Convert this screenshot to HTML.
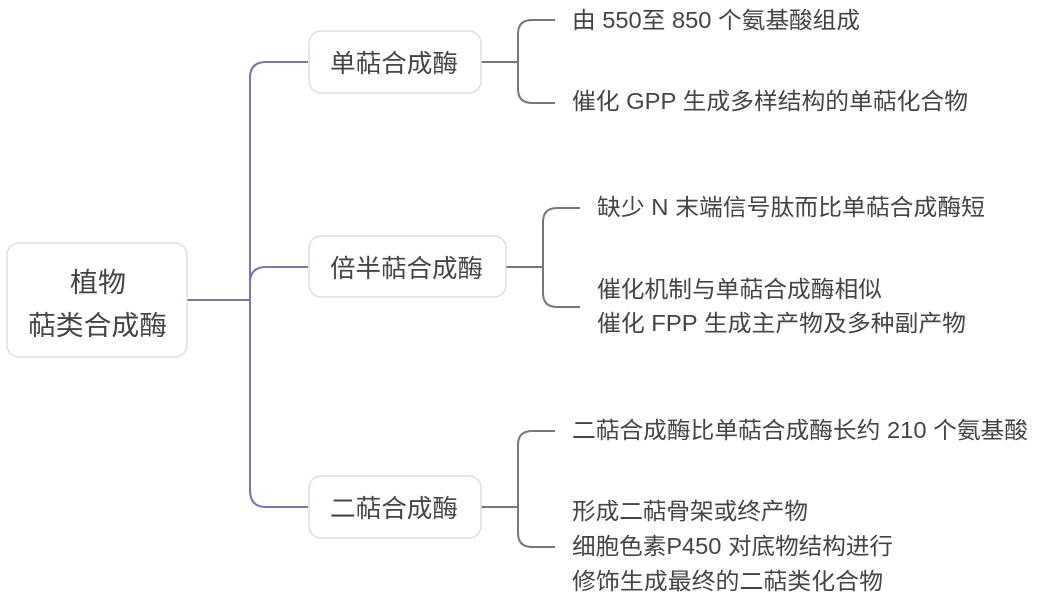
<!DOCTYPE html>
<html><head><meta charset="utf-8"><style>
body{margin:0;background:#fff;}
svg text{font-family:"Liberation Sans","Noto Sans CJK SC",sans-serif;fill:#444;}
</style></head><body>
<svg width="1042" height="604" xmlns="http://www.w3.org/2000/svg">
<g fill="none" stroke="#7b74b5" stroke-width="2">
<path d="M187 300 H250"/>
<path d="M308 62 H266 Q250 62 250 78 V490 Q250 507 266 507 H308"/>
<path d="M250 283 Q250 267 266 267 H308"/>
</g>
<g fill="none" stroke="#777" stroke-width="2">
<path d="M481 62 H518"/>
<path d="M555 20 H532 Q518 20 518 34 V89 Q518 103 532 103 H555"/>
<path d="M506 267 H543"/>
<path d="M580 208 H557 Q543 208 543 222 V293 Q543 307 557 307 H580"/>
<path d="M481 507 H518"/>
<path d="M555 431 H532 Q518 431 518 445 V533 Q518 547 532 547 H555"/>
</g>
<g fill="#fff" stroke="#ddd" stroke-width="1.5">
<rect x="7" y="243" width="180" height="114" rx="12"/>
<rect x="309" y="31" width="172" height="62" rx="12"/>
<rect x="309" y="236" width="197" height="61" rx="12"/>
<rect x="309" y="476" width="172" height="62" rx="12"/>
</g>
<g font-size="27">
<text x="70" y="292" textLength="56" lengthAdjust="spacingAndGlyphs">植物</text>
<text x="28" y="335" textLength="139" lengthAdjust="spacingAndGlyphs">萜类合成酶</text>
</g>
<g font-size="25">
<text x="330" y="72" textLength="128" lengthAdjust="spacingAndGlyphs">单萜合成酶</text>
<text x="330" y="277" textLength="153" lengthAdjust="spacingAndGlyphs">倍半萜合成酶</text>
<text x="330" y="517" textLength="128" lengthAdjust="spacingAndGlyphs">二萜合成酶</text>
</g>
<g font-size="23">
<text x="572" y="28" textLength="288" lengthAdjust="spacingAndGlyphs">由 550至 850 个氨基酸组成</text>
<text x="572" y="109" textLength="396" lengthAdjust="spacingAndGlyphs">催化 GPP 生成多样结构的单萜化合物</text>
<text x="597" y="215" textLength="388" lengthAdjust="spacingAndGlyphs">缺少 N 末端信号肽而比单萜合成酶短</text>
<text x="597" y="297" textLength="285" lengthAdjust="spacingAndGlyphs">催化机制与单萜合成酶相似</text>
<text x="597" y="331" textLength="369" lengthAdjust="spacingAndGlyphs">催化 FPP 生成主产物及多种副产物</text>
<text x="572" y="438" textLength="456" lengthAdjust="spacingAndGlyphs">二萜合成酶比单萜合成酶长约 210 个氨基酸</text>
<text x="572" y="519" textLength="236" lengthAdjust="spacingAndGlyphs">形成二萜骨架或终产物</text>
<text x="572" y="554" textLength="321" lengthAdjust="spacingAndGlyphs">细胞色素P450 对底物结构进行</text>
<text x="572" y="589" textLength="311" lengthAdjust="spacingAndGlyphs">修饰生成最终的二萜类化合物</text>
</g>
</svg>
</body></html>
